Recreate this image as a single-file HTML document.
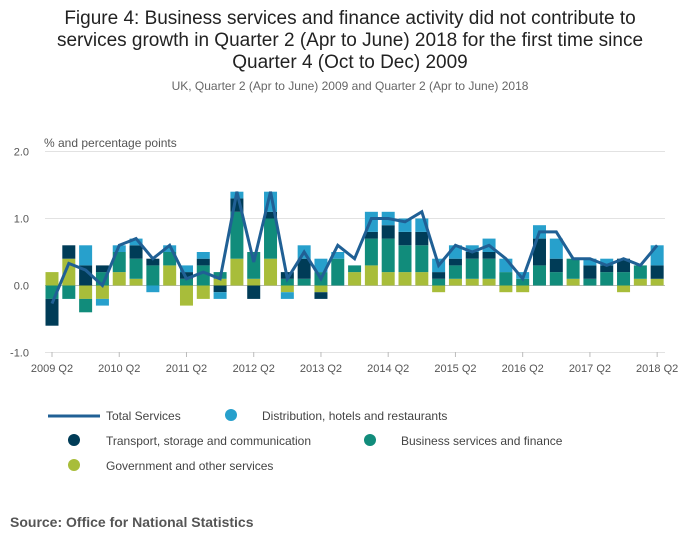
<!DOCTYPE html>
<html><head><meta charset="utf-8"><style>
body{margin:0;background:#fff;font-family:"Liberation Sans",sans-serif;}
svg text{font-family:"Liberation Sans",sans-serif;}
</style></head><body>
<svg id="chart" width="700" height="549">
<text x="350" y="24" text-anchor="middle" font-size="19" fill="#222">Figure 4: Business services and finance activity did not contribute to</text>
<text x="350" y="46" text-anchor="middle" font-size="19" fill="#222">services growth in Quarter 2 (Apr to June) 2018 for the first time since</text>
<text x="350" y="68" text-anchor="middle" font-size="19" fill="#222">Quarter 4 (Oct to Dec) 2009</text>
<text x="350" y="90" text-anchor="middle" font-size="12" fill="#666">UK, Quarter 2 (Apr to June) 2009 and Quarter 2 (Apr to June) 2018</text>
<text x="44" y="147" font-size="12" fill="#555">% and percentage points</text>
<g id="grid"></g><g id="bars"></g><g id="line"></g><g id="xaxis"></g>
<g>
<line x1="48" y1="416" x2="100" y2="416" stroke="#206095" stroke-width="3"/>
<text x="106" y="420" font-size="12" fill="#444">Total Services</text>
<circle cx="231" cy="415" r="6" fill="#27a0cc"/>
<text x="262" y="420" font-size="12" fill="#444">Distribution, hotels and restaurants</text>
<circle cx="74" cy="440" r="6" fill="#003c57"/>
<text x="106" y="445" font-size="12" fill="#444">Transport, storage and communication</text>
<circle cx="370" cy="440" r="6" fill="#118c7b"/>
<text x="401" y="445" font-size="12" fill="#444">Business services and finance</text>
<circle cx="74" cy="465" r="6" fill="#a8bd3a"/>
<text x="106" y="470" font-size="12" fill="#444">Government and other services</text>
</g>
<text x="10" y="527" font-size="14" font-weight="bold" fill="#555">Source: Office for National Statistics</text>
</svg>
<script>
const gov=[0.2,0.4,-0.2,-0.2,0.2,0.1,0,0.3,-0.3,-0.2,0.1,0.4,0.1,0.4,-0.1,0,-0.1,0,0.2,0.3,0.2,0.2,0.2,-0.1,0.1,0.1,0.1,-0.1,-0.1,0,0,0.1,0,0,-0.1,0.1,0.1];
const business=[-0.2,-0.2,-0.2,0.2,0.3,0.3,0.3,0.2,0.1,0.3,0.1,0.7,0.4,0.6,0.1,0.1,0.2,0.4,0.1,0.4,0.5,0.4,0.4,0.1,0.2,0.3,0.3,0.2,0.1,0.3,0.2,0.3,0.1,0.2,0.2,0.2,0];
const transport=[-0.4,0.2,0.3,0.1,0,0.2,0.1,0,0.1,0.1,-0.1,0.2,-0.2,0.1,0.1,0.3,-0.1,0,0,0.1,0.2,0.2,0.2,0.1,0.1,0.1,0.1,0,0,0.4,0.2,0,0.2,0.1,0.2,0,0.2];
const distribution=[0,0,0.3,-0.1,0.1,0.1,-0.1,0.1,0.1,0.1,-0.1,0.1,0,0.3,-0.1,0.2,0.2,0.1,0,0.3,0.2,0.2,0.2,0.2,0.2,0.1,0.2,0.2,0.1,0.2,0.3,0,0.1,0.1,0,0,0.3];
const total=[-0.27,0.33,0.23,0,0.6,0.7,0.4,0.6,0.1,0.2,0.1,1.4,0.35,1.4,0.1,0.5,0.1,0.6,0.4,1.0,1.0,0.95,1.1,0.3,0.6,0.5,0.6,0.4,0.1,0.8,0.8,0.4,0.4,0.3,0.4,0.3,0.6];
const xLabels=["2009 Q2","2010 Q2","2011 Q2","2012 Q2","2013 Q2","2014 Q2","2015 Q2","2016 Q2","2017 Q2","2018 Q2"];
const yTicks=[2,1,0,-1];
const ns="http://www.w3.org/2000/svg";
const X=i=>52+i*16.81, Y=v=>285.5-v*67;
function mk(t,a,p){const e=document.createElementNS(ns,t);for(const k in a)e.setAttribute(k,a[k]);p.appendChild(e);return e;}
const grid=document.getElementById('grid');
yTicks.forEach(v=>{
 const l=mk('line',{x1:45,x2:665,y1:Y(v),y2:Y(v),stroke:v===0?'#bbb':'#e2e2e2','stroke-width':1},grid);
 
 
 const t=mk('text',{x:29,y:Y(v)+4,'text-anchor':'end','font-size':11,fill:'#555'},grid);
 t.textContent=v.toFixed(1);
 
 
});
const series=[[gov,'#a8bd3a','gov'],[business,'#118c7b','business'],[transport,'#003c57','transport'],[distribution,'#27a0cc','distribution']];
const bars=document.getElementById('bars');
total.forEach((_,i)=>{
 let pos=0,neg=0;
 series.forEach(([arr,c,n])=>{
  const v=arr[i]; if(!v)return;
  let y0,y1;
  if(v>0){y0=pos;pos+=v;y1=pos;}else{y0=neg;neg+=v;y1=neg;}
  const r=mk('rect',{x:X(i)-6.5,width:13,y:Math.min(Y(y0),Y(y1)),height:Math.abs(Y(y0)-Y(y1)),fill:c},bars);
  
  
 });
});
const p=mk('polyline',{points:total.map((v,i)=>X(i)+','+Y(v)).join(' '),fill:'none',stroke:'#206095','stroke-width':3,'stroke-linejoin':'miter'},document.getElementById('line'));


const xa=document.getElementById('xaxis');
xLabels.forEach((s,k)=>{
 const x=X(k*4);
 const tk=mk('line',{x1:x,x2:x,y1:352,y2:357,stroke:'#bbb'},xa);
 
 
 const t=mk('text',{x:x,y:372,'text-anchor':'middle','font-size':11,fill:'#555'},xa);
 t.textContent=s;
 
 
});
</script>
</body></html>
